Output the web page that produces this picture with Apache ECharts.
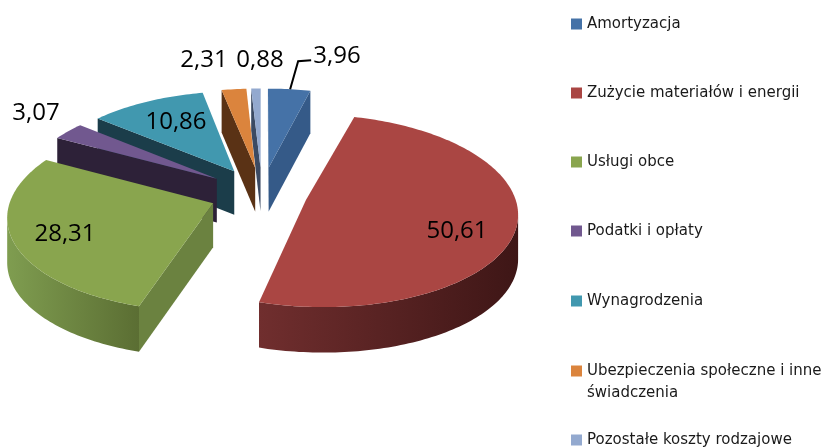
<!DOCTYPE html>
<html><head><meta charset="utf-8">
<style>html,body{margin:0;padding:0;background:#fff}#c{width:825px;height:447px}</style>
<script src="https://cdn.jsdelivr.net/npm/echarts@6/dist/echarts.min.js"></script>
</head><body><div id="c"></div>
<script>
const categories = ['Amortyzacja','Zużycie materiałów i energii','Usługi obce','Podatki i opłaty','Wynagrodzenia','Ubezpieczenia społeczne i inne świadczenia','Pozostałe koszty rodzajowe'];
const values = [3.96,50.61,28.31,3.07,10.86,2.31,0.88];
const valueLabels = ['3,96','50,61','28,31','3,07','10,86','2,31','0,88'];

const topColors = ['#4572a7','#aa4643','#89a54e','#71588f','#4198af','#db843d','#93a9cf'];
const wallColors = ['#355a88','#6b2a2a','#6b8240','#2d2138','#1b3d4a','#5a3215','#3b4a63'];
const arcFrom = ['#355a88','#702e2e','#7f9d50','#2d2138','#1b3d4a','#5a3215','#3b4a63'];
const arcTo = ['#355a88','#3e1616','#5b6e33','#2d2138','#1b3d4a','#5a3215','#3b4a63'];
const labelCenters = [[337,56],[457,231],[65,234],[36,113],[176,122],[204,60],[260,60]];
const legendY = [24,93,162,231,301,371,440];
const drawOrder = [6,5,0,4,3,1,2];
const apexShiftX = [0,-10,3,0,0,0,0];

const X0=262, Y0=193, R=198, A=93.4, PX=0.12, PY=0.1125, EXPLODE=0.28, DEPTH=44, PD=0.03;
const total = values.reduce((a,b)=>a+b,0);
const starts=[]; values.reduce((acc,v,i)=>{starts[i]=acc;return acc+v;},0);

function project(a,mid){
  const u=Math.sin(a)+EXPLODE*Math.sin(mid), v=-Math.cos(a)-EXPLODE*Math.cos(mid);
  return proj(u,v);
}
function proj(u,v){return [X0+R*u/(1-PX*v), Y0+A*v/(1-PY*v), DEPTH/(1-PD*v)];}

function renderSlice(i){
  return function(){
    const a0=starts[i]/total*2*Math.PI, a1=(starts[i]+values[i])/total*2*Math.PI, mid=(a0+a1)/2;
    const apex=proj(EXPLODE*Math.sin(mid),-EXPLODE*Math.cos(mid));
    apex[0]+=apexShiftX[i];
    const n=Math.max(6,Math.ceil((a1-a0)/0.02)), arc=[];
    for(let k=0;k<=n;k++) arc.push(project(a0+(a1-a0)*k/n,mid));
    const children=[];
    const quad=(p,q,fill)=>children.push({type:'polygon',shape:{points:[[p[0],p[1]],[q[0],q[1]],[q[0],q[1]+q[2]],[p[0],p[1]+p[2]]]},style:{fill}});
    const first=arc[0], last=arc[n];
    if(first[0]<apex[0]) quad(apex,first,wallColors[i]);
    if(apex[0]<last[0]) quad(last,apex,wallColors[i]);
    let vis=[];
    for(let k=0;k<n;k++){ if(arc[k+1][0]<arc[k][0]){ if(!vis.length) vis.push(arc[k]); vis.push(arc[k+1]); } }
    if(vis.length>1){
      const pts=vis.map(p=>[p[0],p[1]]).concat(vis.slice().reverse().map(p=>[p[0],p[1]+p[2]]));
      children.push({type:'polygon',shape:{points:pts},style:{fill:{type:'linear',x:0,y:0,x2:1,y2:0,colorStops:[{offset:0,color:arcFrom[i]},{offset:1,color:arcTo[i]}]}}});
    }
    const top=[[apex[0],apex[1]]].concat(arc.map(p=>[p[0],p[1]]));
    children.push({type:'polygon',shape:{points:top},style:{fill:topColors[i]}});
    if(i===0){
      const m=project(a0+(a1-a0)*0.52,mid);
      children.push({type:'polyline',shape:{points:[[m[0],m[1]],[m[0]+8,m[1]-28],[m[0]+21,m[1]-29]]},style:{stroke:'#000',lineWidth:2,fill:null}});
    }
    children.push({type:'text',z2:50,style:{text:valueLabels[i],x:labelCenters[i][0],y:labelCenters[i][1],align:'center',verticalAlign:'middle',fill:'#000',font:'24px "Open Sans"'}});
    return {type:'group',children};
  };
}

const series=drawOrder.map((i,ord)=>({
  type:'custom',name:categories[i],coordinateSystem:'none',silent:true,animation:false,z:2+ord,clip:false,
  itemStyle:{color:topColors[i]},data:[values[i]],renderItem:renderSlice(i)
}));
const legends=categories.map((name,i)=>({
  show:true,data:[name],orient:'vertical',left:571,top:legendY[i]-(i===5?33:11),padding:0,
  icon:'rect',itemWidth:11,itemHeight:11,selectedMode:false,animation:false,
  textStyle:{fontFamily:'"DejaVu Sans"',fontSize:15,color:'#1a1a1a',lineHeight:22},
  formatter:(n)=>i===5?'\nUbezpieczenia społeczne i inne\nświadczenia':n
}));
const chart=echarts.init(document.getElementById('c'),null,{renderer:'canvas'});
chart.setOption({animation:false,backgroundColor:'#fff',legend:legends,series});
</script></body></html>
